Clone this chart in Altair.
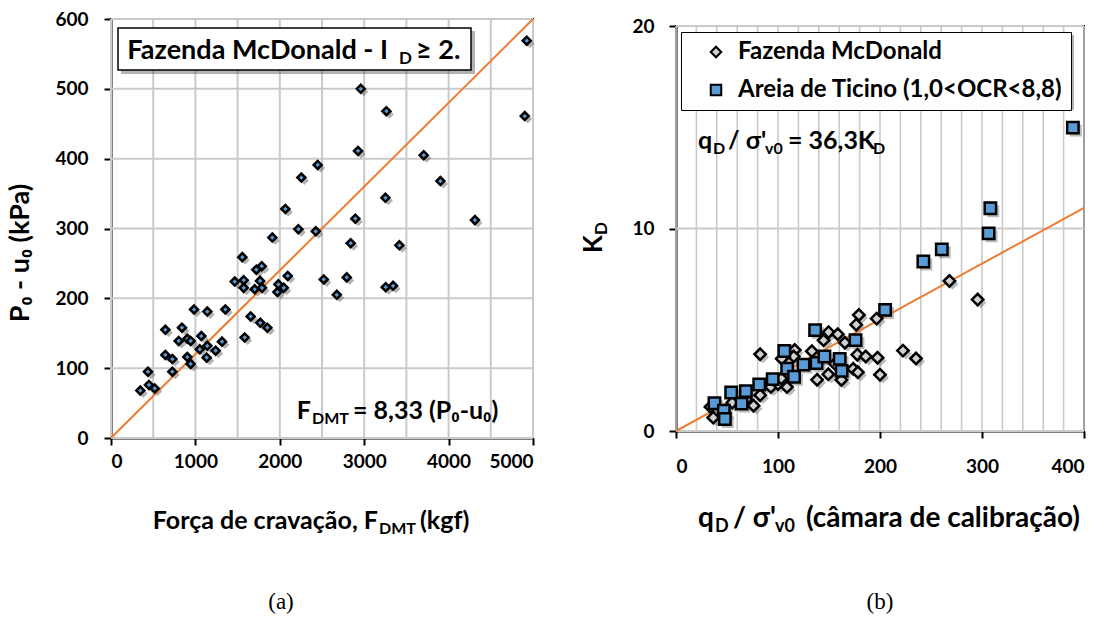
import altair as alt
import pandas as pd

FONT = "Lato"
SERIF = "Liberation Serif"
BLUE = "#5B9BD5"
GREY = "#D0D0D0"
ORANGE = "#ED7D31"
GRID = "#CACACA"

# ---------------- Panel (a): Fazenda McDonald, F_DMT (kgf) x P0-u0 (kPa)
a_force = [347, 438, 450, 518, 727, 644, 727, 644, 802, 841, 904, 944, 904, 944, 984, 1051,
           1070, 1141, 1141, 1134, 1240, 1315, 1355, 1466, 1556, 1572, 1572, 1584, 1655, 1722,
           1786, 1703, 1766, 1789, 1769, 1852, 1911, 1971, 1983, 2046, 2094, 2066, 2220, 2255,
           2426, 2449, 2521, 2675, 4926, 4902, 2959, 3263, 2927, 3705, 3903, 3251, 2895, 4312,
           2840, 3417, 2793, 3255, 3342]
a_p0u0 = [68, 95, 76, 71, 95, 119, 113, 155, 139, 158, 142, 139, 116, 106, 184, 127,
          146, 181, 132, 115, 125, 138, 184, 224, 259, 226, 215, 144, 174, 241,
          246, 213, 225, 215, 165, 158, 287, 209, 220, 215, 232, 328, 299, 373,
          296, 391, 227, 205, 569, 461, 500, 468, 411, 405, 368, 344, 314, 312,
          279, 276, 230, 216, 218]
fit_a_force = [0, 5000]
fit_a_p = [0, 600]
a_x_ticks = [0, 500, 1000, 1500, 2000, 2500, 3000, 3500, 4000, 4500, 5000]
a_y_ticks = [0, 100, 200, 300, 400, 500, 600]

# ---------------- Panel (b): K_D x qD/sigma'v0
FAZ = "Fazenda McDonald"
TIC = "Areia de Ticino (1,0<OCR<8,8)"
b_faz_q = [33.8, 36.5, 55.2, 76.0, 82.5, 82.5, 93.0, 100.0, 103.7, 108.8, 116.4, 115.4, 133.2,
           138.3, 149.3, 144.7, 149.6, 158.6, 155.7, 162.2, 165.6, 173.7, 178.3, 177.8, 186.0,
           176.7, 179.3, 196.7, 197.6, 200.0, 222.5, 235.3, 268.1, 295.7, 68.8, 103.2]
b_faz_k = [1.19, 0.66, 1.40, 1.25, 1.77, 3.79, 2.17, 2.32, 3.57, 2.17, 4.00, 3.68, 3.94,
           2.53, 2.80, 4.48, 4.88, 4.78, 3.32, 2.52, 4.36, 3.07, 2.90, 3.77, 3.68,
           5.25, 5.73, 5.55, 3.62, 2.78, 3.97, 3.58, 7.41, 6.49, 1.55, 2.60]
b_tic_q = [37.7, 46.9, 47.9, 54.1, 64.3, 68.5, 81.6, 94.8, 106.2, 109.0, 115.7, 125.0,
           136.4, 137.8, 145.5, 160.5, 162.4, 176.0, 205.0, 242.5, 260.6, 308.2, 306.5, 389.1]
b_tic_k = [1.37, 1.00, 0.59, 1.90, 1.35, 1.97, 2.30, 2.56, 3.95, 3.08, 2.68, 3.28,
           4.98, 3.36, 3.68, 3.56, 2.97, 4.49, 5.98, 8.37, 8.97, 11.00, 9.76, 14.98]
fit_b_q = [0, 400]
fit_b_k = [0, 11.02]
b_x_ticks = list(range(0, 401, 20))
b_y_ticks = [0, 10, 20]

one = pd.DataFrame({"k": [0]})


def txt(s, x, y, size, align="left", angle=0, dx=0, dy=0, font=FONT, weight="bold",
        baseline="alphabetic"):
    return alt.Chart(one).mark_text(
        text=s, align=align, baseline=baseline, angle=angle, dx=dx, dy=dy,
        font=font, fontSize=size, fontWeight=weight, color="black"
    ).encode(x=alt.value(x), y=alt.value(y))


# ================= Panel (a)
df_a = pd.DataFrame({"force": a_force, "p": a_p0u0})
fit_a = pd.DataFrame({"force": fit_a_force, "p": fit_a_p})

xa = alt.X("force:Q", scale=alt.Scale(domain=[0, 5000], nice=False),
           axis=alt.Axis(values=a_x_ticks, format="d", title=None, grid=False, labelPadding=7,
                         labelExpr="datum.value % 1000 === 0 ? datum.label : ''",
                         tickColor={"condition": {"test": "datum.value % 1000 !== 0",
                                                  "value": "transparent"},
                                    "value": "black"}))
ya = alt.Y("p:Q", scale=alt.Scale(domain=[0, 600], nice=False),
           axis=alt.Axis(values=a_y_ticks, format="d", title=None, grid=False, labelPadding=16))

grid_ax = alt.Chart(pd.DataFrame({"force": a_x_ticks})).mark_rule(
    color=GRID, strokeWidth=2, opacity=1).encode(x=xa)
grid_ay = alt.Chart(pd.DataFrame({"p": a_y_ticks})).mark_rule(
    color=GRID, strokeWidth=2, opacity=1).encode(y=ya)
shadow_a = alt.Chart(df_a).mark_point(shape="diamond", filled=True, color="#555555",
                                      opacity=0.45, size=80, xOffset=3, yOffset=3
                                      ).encode(x=xa, y=ya)
line_a = alt.Chart(fit_a).mark_line(color=ORANGE, strokeWidth=2).encode(x=xa, y=ya)
pts_a = alt.Chart(df_a).mark_point(shape="diamond", filled=True, fill=BLUE, stroke="black",
                                   strokeWidth=2.5, size=64, opacity=1).encode(x=xa, y=ya)
box_sh = alt.Chart(one).mark_rect(fill="#555555", opacity=0.45).encode(
    x=alt.value(10), x2=alt.value(364), y=alt.value(12), y2=alt.value(55))
box = alt.Chart(one).mark_rect(fill="white", stroke="black", strokeWidth=1.5).encode(
    x=alt.value(7), x2=alt.value(360), y=alt.value(9), y2=alt.value(51))

panel_a = alt.layer(
    grid_ax, grid_ay, shadow_a, line_a, pts_a, box_sh, box,
    txt("Fazenda McDonald - I", 277, 40, 27, align="right"),
    txt("D", 288, 45, 17),
    txt("\u2265 2.", 305, 40, 27),
    txt("F", 200, 400, 25, align="right"),
    txt("DMT", 201, 405, 16),
    txt("= 8,33 (P\u2080-u\u2080)", 242, 400, 25),
    txt("P\u2080 - u\u2080 (kPa)", -82, 234, 27, align="center", angle=270),
    txt("Força de cravação, F", 267, 510, 25, align="right"),
    txt("DMT", 268, 515, 16),
    txt("(kgf)", 309, 510, 25),
    txt("(a)", 170, 583, 23, align="center", font=SERIF, weight="normal", baseline="middle"),
).properties(width=422, height=419)

# ================= Panel (b)
df_faz = pd.DataFrame({"q": b_faz_q, "k": b_faz_k, "series": FAZ})
df_tic = pd.DataFrame({"q": b_tic_q, "k": b_tic_k, "series": TIC})
df_b = pd.concat([df_faz, df_tic], ignore_index=True)
fit_b = pd.DataFrame({"q": fit_b_q, "k": fit_b_k})

xb = alt.X("q:Q", scale=alt.Scale(domain=[0, 400], nice=False),
           axis=alt.Axis(values=b_x_ticks, format="d", title=None, grid=False, labelPadding=19,
                         labelExpr="datum.value % 100 === 0 ? datum.label : ''",
                         tickColor={"condition": {"test": "datum.value % 100 !== 0",
                                                  "value": "transparent"},
                                    "value": "black"}))
yb = alt.Y("k:Q", scale=alt.Scale(domain=[0, 20], nice=False),
           axis=alt.Axis(values=b_y_ticks, format="d", title=None, grid=False, labelPadding=15))

leg = alt.Legend(title=None, orient="none", legendX=5, legendY=6, fillColor="white",
                 strokeColor="black", padding=8, rowPadding=14, labelFont=FONT,
                 labelFontSize=24, labelFontWeight="bold", labelLimit=600,
                 symbolSize=110, symbolStrokeWidth=2, symbolStrokeColor="black",
                 symbolOffset=15, labelOffset=10, labelColor="black")
fill_b = alt.Fill("series:N", scale=alt.Scale(domain=[FAZ, TIC], range=[GREY, BLUE]),
                  legend=leg)
shape_b = alt.Shape("series:N", scale=alt.Scale(domain=[FAZ, TIC], range=["diamond", "square"]),
                    legend=leg)
stroke_b = alt.Stroke("series:N", scale=alt.Scale(domain=[FAZ, TIC], range=["black", "black"]),
                      legend=leg)

grid_bx = alt.Chart(pd.DataFrame({"q": b_x_ticks})).mark_rule(
    color=GRID, strokeWidth=1.6, opacity=1).encode(x=xb)
grid_by = alt.Chart(pd.DataFrame({"k": b_y_ticks})).mark_rule(
    color=GRID, strokeWidth=2, opacity=1).encode(y=yb)
sh_faz = alt.Chart(df_faz).mark_point(shape="diamond", filled=True, color="#555555",
                                      opacity=0.4, size=140, xOffset=3, yOffset=3
                                      ).encode(x=xb, y=yb)
sh_tic = alt.Chart(df_tic).mark_point(shape="square", filled=True, color="#555555",
                                      opacity=0.4, size=140, xOffset=3, yOffset=3
                                      ).encode(x=xb, y=yb)
line_b = alt.Chart(fit_b).mark_line(color=ORANGE, strokeWidth=2).encode(x=xb, y=yb)
pts_b = alt.Chart(df_b).mark_point(filled=True, strokeWidth=2.5, size=130, opacity=1).encode(
    x=xb, y=yb, fill=fill_b, shape=shape_b, stroke=stroke_b)
leg_sh = alt.Chart(one).mark_rect(fill="#555555", opacity=0.45).encode(
    x=alt.value(8), x2=alt.value(398), y=alt.value(9), y2=alt.value(84))

panel_b = alt.layer(
    grid_bx, grid_by, sh_faz, sh_tic, line_b, pts_b, leg_sh,
    txt("q", 22, 123, 25),
    txt("D", 37, 128, 16),
    txt("/ \u03c3'", 52, 123, 25),
    txt("v0", 89, 128, 16),
    txt("= 36,3K", 112, 123, 25),
    txt("D", 197, 128, 16),
    txt("K", -74, 227, 26, angle=270),
    txt("D", -74, 227, 17, angle=270, dx=18, dy=5),
    txt("q", 22, 501, 28),
    txt("D", 39, 506, 18),
    txt("/ \u03c3'", 57, 501, 28),
    txt("v0", 99, 506, 18),
    txt("(câmara de calibração)", 130, 501, 28),
    txt("(b)", 204, 576, 23, align="center", font=SERIF, weight="normal", baseline="middle"),
).properties(width=408, height=405)

chart = alt.hconcat(panel_a, panel_b, spacing=143, bounds="flush", center=True).resolve_legend(
    fill="independent", shape="independent", stroke="independent"
).properties(
    padding={"left": 6, "top": 9, "right": 0, "bottom": 0}
).configure_view(stroke="black", strokeWidth=2).configure_axis(
    domainColor="black", domainWidth=2, tickColor="black", tickWidth=2, tickSize=7,
    labelFont=FONT, labelFontSize=19, labelFontWeight="bold", labelColor="black"
)

chart.save("out.html", embed_options={"renderer": "svg", "actions": False})
